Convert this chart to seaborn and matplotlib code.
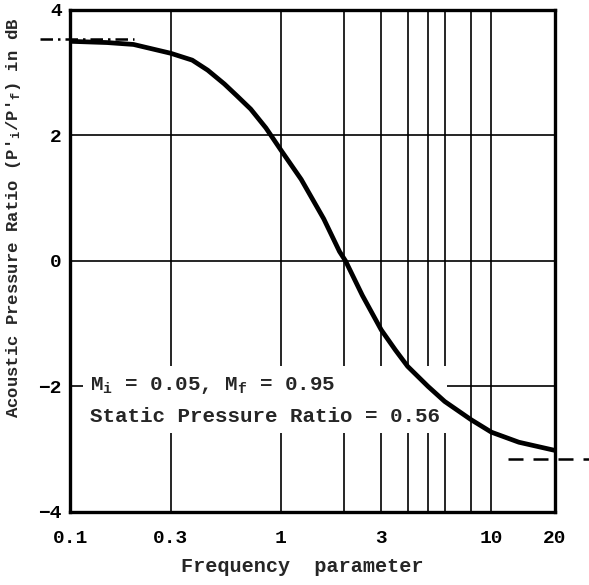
import numpy as np
import pandas as pd
import seaborn as sns
import matplotlib.pyplot as plt
from matplotlib.ticker import FixedLocator, NullFormatter, NullLocator

# curve
freq = [0.1, 0.15, 0.2, 0.3, 0.38, 0.45, 0.54, 0.62, 0.72, 0.85, 1.0, 1.25,
        1.6, 1.9, 2.03, 2.44, 3.0, 3.5, 4.0, 5.0, 6.0, 8.0, 10.0, 13.5, 20.0]
ratio_db = [3.50, 3.48, 3.45, 3.31, 3.20, 3.04, 2.82, 2.63, 2.42, 2.12, 1.77, 1.30,
            0.67, 0.15, 0.0, -0.55, -1.10, -1.42, -1.68, -2.00, -2.24, -2.53, -2.73,
            -2.89, -3.02]

# asymptote dashes
low_asym_x = [0.072, 0.2]
low_asym_y = [3.53, 3.53]
high_asym_x = [12.0, 29.0]
high_asym_y = [-3.15, -3.15]

major_x = [0.1, 0.3, 1, 3, 10, 20]
major_x_labels = ["0.1", "0.3", "1", "3", "10", "20"]
grid_x = [0.3, 1, 2, 3, 4, 5, 6, 8, 10]
y_ticks = [-4, -2, 0, 2, 4]

df = pd.DataFrame({"freq": freq, "db": ratio_db})

sns.set_style("white")
plt.rcParams['font.family'] = ['Liberation Mono', 'DejaVu Sans Mono']
plt.rcParams['font.weight'] = 'bold'
plt.rcParams['axes.labelweight'] = 'bold'
plt.rcParams['mathtext.fontset'] = 'custom'
plt.rcParams['mathtext.rm'] = 'Liberation Mono:bold'
plt.rcParams['mathtext.it'] = 'Liberation Mono:bold'
plt.rcParams['mathtext.bf'] = 'Liberation Mono:bold'

fig = plt.figure(figsize=(5.89, 5.85), dpi=100)
ax = fig.add_axes([0.119, 0.125, 0.823, 0.858])

sns.lineplot(data=df, x="freq", y="db", color="black", linewidth=3.4, ax=ax, zorder=5)
ax.set_xscale("log")
ax.set_xlim(0.1, 20)
ax.set_ylim(-4, 4)

for gx in grid_x:
    ax.axvline(gx, color="black", lw=1.2, zorder=1)
for gy in [-2, 0, 2]:
    ax.axhline(gy, color="black", lw=1.2, zorder=1)

ax.plot(low_asym_x, low_asym_y, color="black", lw=1.8, ls=(0, (5, 2, 1, 2)), clip_on=False, zorder=4)
ax.plot(high_asym_x, high_asym_y, color="black", lw=1.8, ls=(0, (6, 4)), clip_on=False, zorder=4)

ax.text(0.124, -2.22, "M$_i$ = 0.05, M$_f$ = 0.95\nStatic Pressure Ratio = 0.56",
        fontsize=15, va="center", ha="left", linespacing=1.75,
        bbox=dict(facecolor="white", edgecolor="none", pad=5), zorder=3)

ax.xaxis.set_major_locator(FixedLocator(major_x))
ax.set_xticklabels(major_x_labels)
ax.xaxis.set_minor_locator(NullLocator())
ax.xaxis.set_minor_formatter(NullFormatter())
ax.set_yticks(y_ticks)
ax.tick_params(axis="both", length=0, labelsize=14, colors="black")
ax.tick_params(axis="x", pad=13)
ax.tick_params(axis="y", pad=6)

for s in ax.spines.values():
    s.set_linewidth(2.4)
    s.set_color("black")
    s.set_zorder(6)

ax.set_xlabel("Frequency  parameter", fontsize=14.5)
ax.set_ylabel("Acoustic Pressure Ratio (P$'_i$/P$'_f$) in dB", fontsize=12.4)
ax.xaxis.set_label_coords(0.478, -0.09)
ax.yaxis.set_label_coords(-0.098, 0.585)

plt.savefig("out.png", dpi=100)
